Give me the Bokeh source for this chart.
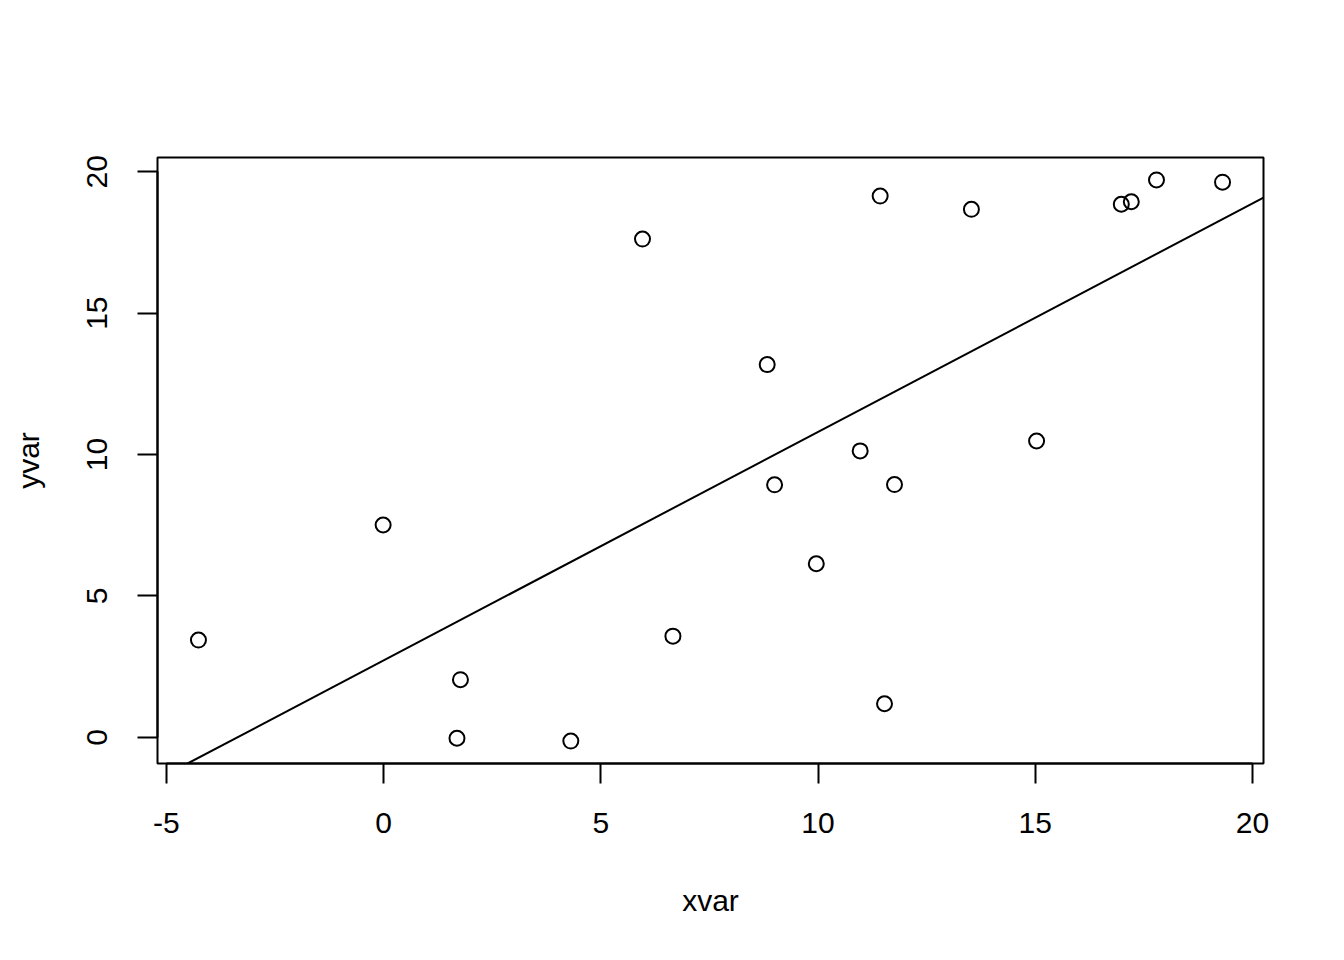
from bokeh.plotting import figure
from bokeh.models import Range1d, FixedTicker, Slope
from bokeh.embed import file_html
from bokeh.resources import INLINE

xvar = [-4.26, -0.01, 1.77, 1.69, 5.96, 8.83, 9.00, 4.31, 6.66, 9.96,
        11.53, 11.43, 13.53, 10.97, 15.03, 11.76, 16.98, 17.21, 17.79, 19.31]
yvar = [3.44, 7.51, 2.04, -0.03, 17.62, 13.18, 8.93, -0.13, 3.58, 6.14,
        1.19, 19.14, 18.67, 10.13, 10.48, 8.94, 18.85, 18.94, 19.71, 19.63]
fit_intercept = 2.72
fit_slope = 0.808
x_ticks = [-5, 0, 5, 10, 15, 20]
y_ticks = [0, 5, 10, 15, 20]

FONT = "Liberation Sans"

def pad(vals):
    lo, hi = min(vals), max(vals)
    d = (hi - lo) * 0.04
    return lo - d, hi + d

xr = pad(xvar)
yr = pad(yvar)

p = figure(width=1344, height=960, output_backend="svg", toolbar_location=None,
           x_range=Range1d(*xr), y_range=Range1d(*yr),
           min_border_left=157, min_border_right=81, min_border_top=157, min_border_bottom=197)
p.background_fill_color = "white"
p.border_fill_color = "white"
p.grid.visible = False
p.outline_line_color = "black"
p.outline_line_width = 2

p.scatter(xvar, yvar, size=15, marker="circle", fill_color=None,
          line_color="black", line_width=2)
p.add_layout(Slope(gradient=fit_slope, y_intercept=fit_intercept,
                   line_color="black", line_width=2))

for ax, ticks in ((p.xaxis[0], x_ticks), (p.yaxis[0], y_ticks)):
    ax.ticker = FixedTicker(ticks=ticks)
    ax.bounds = (ticks[0], ticks[-1])
    ax.major_label_overrides = {t: str(t) for t in ticks}
    ax.axis_line_color = "black"
    ax.axis_line_width = 2
    ax.major_tick_out = 20
    ax.major_tick_in = 0
    ax.major_tick_line_width = 2
    ax.minor_tick_line_color = None
    ax.major_label_text_font = FONT
    ax.major_label_text_font_size = "30px"
    ax.major_label_text_color = "black"
    ax.axis_label_text_font = FONT
    ax.axis_label_text_font_size = "30px"
    ax.axis_label_text_font_style = "normal"
    ax.axis_label_text_color = "black"

p.xaxis.axis_label = "xvar"
p.yaxis.axis_label = "yvar"
p.xaxis.major_label_standoff = 29
p.xaxis.axis_label_standoff = 48
p.yaxis.major_label_orientation = "vertical"
p.yaxis.major_label_standoff = 30
p.yaxis.axis_label_standoff = 40

open("out.html", "w").write(file_html(p, INLINE))
